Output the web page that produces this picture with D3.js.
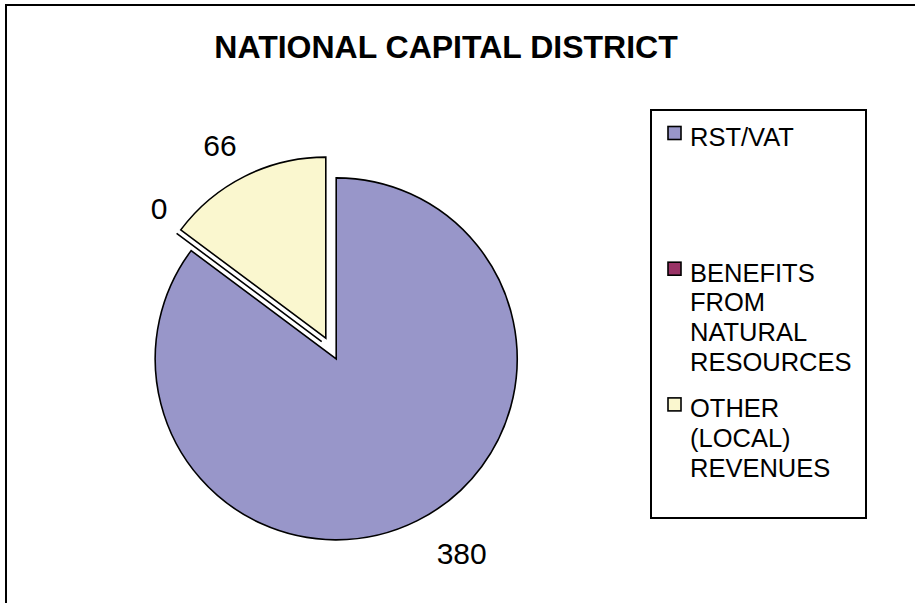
<!DOCTYPE html>
<html>
<head>
<meta charset="utf-8">
<script src="https://cdn.jsdelivr.net/npm/d3@7/dist/d3.min.js"></script>
<style>
  html, body { margin: 0; padding: 0; background: #fff; }
  svg { display: block; font-family: "Liberation Sans", Arial, sans-serif; }
</style>
</head>
<body>
<svg id="chart" width="915" height="603"></svg>
<script>
// Revenue sources for the district (values in the same units as the labels)
const categories = ["RST/VAT", "BENEFITS FROM NATURAL RESOURCES", "OTHER (LOCAL) REVENUES"];
const values = [380, 0, 66];
const colors = ["#9896C9", "#993366", "#FAF7CF"];
const legendLines = [["RST/VAT"], ["BENEFITS", "FROM", "NATURAL", "RESOURCES"], ["OTHER", "(LOCAL)", "REVENUES"]];
const title = "NATIONAL CAPITAL DISTRICT";

const svg = d3.select("#chart");
const W = 915, H = 603;

// chart frame (runs off the right and bottom edges)
svg.append("rect")
  .attr("x", 6).attr("y", 5)
  .attr("width", W + 20).attr("height", H + 20)
  .attr("fill", "#fff").attr("stroke", "#000").attr("stroke-width", 2);

svg.append("text")
  .attr("x", 446).attr("y", 58)
  .attr("text-anchor", "middle")
  .attr("font-size", 32).attr("font-weight", "bold")
  .text(title);

// pie layout: first slice starts at 12 o'clock, clockwise
const cx = 331, cy = 348.5, radius = 181, explode = 11.6;
const pie = d3.pie().sort(null).value(d => d)(values);
const arc = d3.arc().innerRadius(0).outerRadius(radius);

const g = svg.append("g").attr("transform", `translate(${cx},${cy})`);

function bisector(d) {
  const a = (d.startAngle + d.endAngle) / 2;
  return [Math.sin(a), -Math.cos(a)];
}

g.selectAll("path.slice")
  .data(pie)
  .join("path")
  .attr("class", "slice")
  .attr("d", arc)
  .attr("transform", d => {
    const [ux, uy] = bisector(d);
    return `translate(${ux * explode},${uy * explode})`;
  })
  .attr("fill", (d, i) => colors[i])
  .attr("stroke", "#000")
  .attr("stroke-width", 1.6)
  .attr("stroke-linejoin", "miter");

// data labels placed outside each slice
const labelRadius = [229, 222, 232];
const labelShift = [[28, 0], [6, -7], [-7, 4]];
g.selectAll("text.val")
  .data(pie)
  .join("text")
  .attr("class", "val")
  .attr("x", (d, i) => bisector(d)[0] * labelRadius[i] + labelShift[i][0])
  .attr("y", (d, i) => bisector(d)[1] * labelRadius[i] + labelShift[i][1])
  .attr("dy", "0.35em")
  .attr("text-anchor", "middle")
  .attr("font-size", 30)
  .text(d => d.data);

// legend
const legend = svg.append("g");
legend.append("rect")
  .attr("x", 651).attr("y", 110)
  .attr("width", 215).attr("height", 408)
  .attr("fill", "#fff").attr("stroke", "#000").attr("stroke-width", 2);

const entryTop = 146, entryStep = 135.7, lineStep = 29.7;
const items = legend.selectAll("g.item")
  .data(categories)
  .join("g")
  .attr("class", "item")
  .attr("transform", (d, i) => `translate(0,${entryTop + i * entryStep})`);

items.append("rect")
  .attr("x", 668).attr("y", -19.5)
  .attr("width", 13).attr("height", 13)
  .attr("fill", (d, i) => colors[i])
  .attr("stroke", "#000").attr("stroke-width", 1.6);

items.append("text")
  .attr("x", 690).attr("y", 0)
  .attr("font-size", 25.5)
  .selectAll("tspan")
  .data((d, i) => legendLines[i])
  .join("tspan")
  .attr("x", 690)
  .attr("y", (d, j) => j * lineStep)
  .text(d => d);
</script>
</body>
</html>
